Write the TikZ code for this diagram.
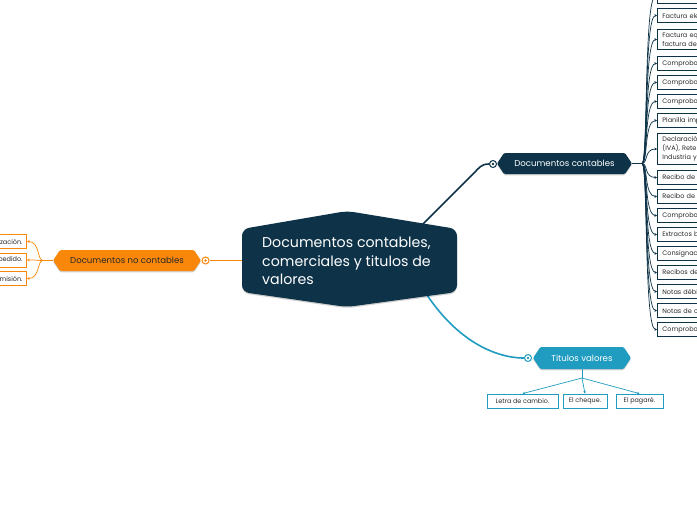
\documentclass[tikz,border=0pt]{standalone}
\usepackage{fontspec}
\setmainfont{Poppins}
\usetikzlibrary{shapes.symbols,arrows.meta,calc,shadows}
\definecolor{navy}{RGB}{14,51,72}
\definecolor{orng}{RGB}{249,136,10}
\definecolor{tealc}{RGB}{32,156,192}
\definecolor{txt}{RGB}{40,40,40}
\begin{document}
\begin{tikzpicture}[x=1pt,y=-1pt,
  softshadow/.style={drop shadow={shadow xshift=0pt, shadow yshift=-1.3pt, opacity=0.18, fill=black}},
  hexnode/.style={signal, signal to=east and west, signal pointer angle=112,
    minimum height=21pt, inner sep=0pt, rounded corners=1.2pt, softshadow,
    font=\fontsize{8.6}{10}\selectfont},
  rbox/.style={draw=navy, line width=0.8pt, fill=white, anchor=west,
    font=\fontsize{6.5}{9}\selectfont, text=txt, align=left, text width=120pt,
    inner xsep=5pt, inner ysep=3pt, minimum height=14pt},
  lbox/.style={draw=orng, line width=0.8pt, fill=white, anchor=east,
    font=\fontsize{6.5}{9}\selectfont, text=txt, align=right,
    inner xsep=4pt, inner ysep=3pt, minimum height=14pt},
  tbox/.style={draw=tealc, line width=0.8pt, fill=white,
    font=\fontsize{6.4}{9}\selectfont, text=txt, align=center,
    inner xsep=2pt, inner ysep=3pt, minimum height=14pt},
  ringmark/.style={circle, draw=#1, fill=white, line width=1pt, minimum size=7pt, inner sep=0pt},
  nconn/.style={navy, line width=0.7pt, -{Stealth[length=2.6pt,width=2.6pt]}},
  oconn/.style={orng, line width=0.7pt, -{Stealth[length=2.6pt,width=2.6pt]}},
  tconn/.style={tealc, line width=0.7pt, -{Stealth[length=2.6pt,width=2.6pt]}},
]
\clip (0,0) rectangle (697,520);
\fill[white] (0,0) rectangle (697,520);

% --- main branch connectors (from behind the central node)
\coordinate (cs1) at (400,247);
\coordinate (cs2) at (415,275);
\coordinate (cs3) at (260,260.5);
\node[ringmark=navy] (m1) at (493,164) {};
\node[ringmark=orng] (m2) at (205.5,260.5) {};
\node[ringmark=tealc] (m3) at (528,358) {};
\draw[navy, line width=1.6pt] (cs1) -- (474,173) .. controls (479,168) and (481,164) .. (m1.west);
\draw[tealc, line width=1.6pt] (cs2) .. controls (450,340) and (495,358) .. (m3.west);
\draw[orng, line width=1.6pt] (cs3) -- (m2.east);
\fill[navy] (m1) circle (1.3pt);
\fill[orng] (m2) circle (1.3pt);
\fill[tealc] (m3) circle (1.3pt);

% --- central node
\fill[navy, rounded corners=7pt, softshadow] (242,229) -- (347,211) -- (457,229) -- (457,292) -- (347,307) -- (242,292) -- cycle;
\node[text=white, align=left, anchor=west, font=\fontsize{14.2}{18.5}\selectfont, inner sep=0pt] (ctr) at (262,261)
  {Documentos contables,\\comerciales y titulos de\\valores};

% --- level-1 nodes
\node[hexnode, fill=navy, text=white, minimum width=135pt] (dc) at (564.5,163.5) {Documentos contables};
\node[hexnode, fill=orng, text=txt, minimum width=148pt] (dnc) at (127,260.5) {Documentos no contables};
\node[hexnode, fill=tealc, text=white, minimum width=98pt, minimum height=22pt] (tv) at (582,358) {Titulos valores};

% --- Documentos contables children
\coordinate (hub) at (642,163.5);
\draw[navy, line width=0.8pt] (dc.east) -- (hub);
\foreach \n/\y/\t in {
  b0/-3.5/{Factura de venta.},
  b1/15.5/{Factura electrónica.},
  b2/39.5/{Factura equivalente a\\factura de venta.},
  b3/63.5/{Comprobante de ingreso.},
  b4/82.5/{Comprobante de egreso.},
  b5/101.5/{Comprobante de contabilidad.},
  b6/120.5/{Planilla impuestos.},
  b7/149/{Declaración de impuestos\\(IVA), Retención en la fuente,\\Industria y comercio.},
  b8/177.5/{Recibo de caja.},
  b9/196.5/{Recibo de pago.},
  b10/215.5/{Comprobante de nómina.},
  b11/234.5/{Extractos bancarios.},
  b12/253.5/{Consignaciones bancarias.},
  b13/272.5/{Recibos de caja menor.},
  b14/291.5/{Notas débito.},
  b15/310.5/{Notas de crédito.},
  b16/329.5/{Comprobante de pago.}}{
  \node[rbox] (\n) at (657,\y) {\t};
  \draw[nconn] (hub) .. controls (648,163.5) and (644,\y) .. (\n.west);
}

% --- Documentos no contables children
\coordinate (lhub) at (43,260.5);
\draw[orng, line width=0.8pt] (dnc.west) -- (lhub);
\foreach \n/\y/\t in {l1/241.5/{Cotización.}, l2/260/{Orden de pedido.}, l3/278.5/{Remisión.}}{
  \node[lbox] (\n) at (27,\y) {\t};
  \draw[oconn] (lhub) .. controls (37,260.5) and (40,\y) .. (\n.east);
}

% --- Titulos valores children
\coordinate (thub) at (582,378);
\draw[tealc, line width=0.8pt] (tv.south) -- (thub);
\node[tbox, minimum width=71pt] (t1) at (522.5,401) {Letra de cambio.};
\node[tbox, minimum width=44pt] (t2) at (585,401) {El cheque.};
\node[tbox, minimum width=47pt] (t3) at (639.5,401) {El pagaré.};
\foreach \n in {t1,t2,t3}{\draw[tconn] (thub) -- (\n.north);}
\end{tikzpicture}
\end{document}
